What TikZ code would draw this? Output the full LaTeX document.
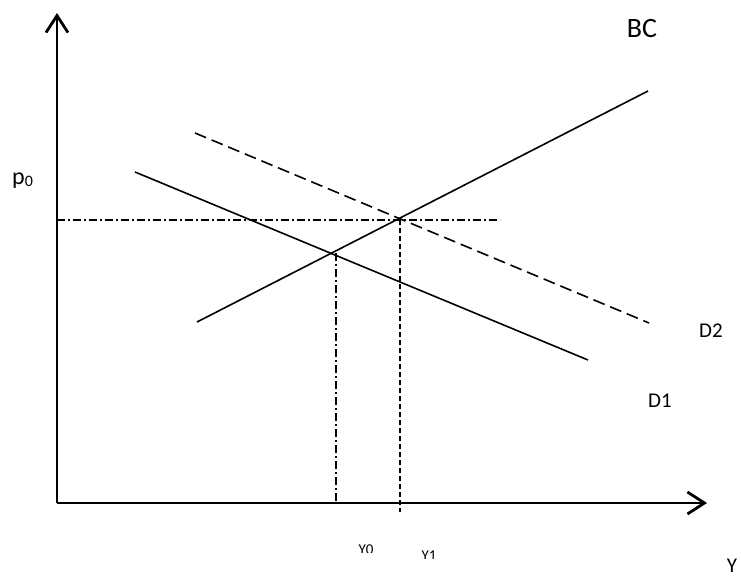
\documentclass[tikz,border=0pt]{standalone}
\usepackage{fontspec}
\setmainfont{Carlito}
\usetikzlibrary{arrows.meta}
\tikzset{
  axis/.style={line width=2.8pt,-{Straight Barb[length=17pt,width=22pt,line width=2.8pt]}},
  curve/.style={line width=1.6pt},
  dcurve/.style={line width=1.6pt,dash pattern=on 12pt off 6pt},
  guide/.style={line width=1.2pt,dash pattern=on 8pt off 3pt on 2pt off 3pt},
  vguide/.style={line width=1.2pt,dash pattern=on 5pt off 3pt},
  lbl/.style={inner sep=0pt,anchor=base}
}
\begin{document}
\begin{tikzpicture}[x=1pt,y=-1pt]
\useasboundingbox (0,0) rectangle (741,576);
\fill[white] (0,0) rectangle (741,576);
% axes
\coordinate (O) at (57,503);
\coordinate (ytip) at (57,13);
\coordinate (xtip) at (707,503);
\draw[axis] (O) -- (ytip);
\draw[axis] (O) -- (xtip);
% curves
\coordinate (bcA) at (197,322);
\coordinate (bcB) at (648,91);
\coordinate (d1A) at (135,172);
\coordinate (d1B) at (588,360);
\coordinate (d2A) at (195,133);
\coordinate (d2B) at (649,323);
\draw[curve] (bcA) -- (bcB);
\draw[curve] (d1A) -- (d1B);
\draw[dcurve] (d2A) -- (d2B);
% guides
\coordinate (hL) at (57,220);
\coordinate (hR) at (500,220);
\coordinate (E1) at (400,220);
\coordinate (E1b) at (400,512);
\coordinate (E0) at (336,253);
\coordinate (E0b) at (336,503);
\draw[guide] (hL) -- (hR);
\draw[vguide] (E1) -- (E1b);
\draw[guide] (E0) -- (E0b);
% labels
\node[lbl,font=\fontsize{28}{28}\selectfont] (BC) at (642,37) {BC};
\node[lbl,font=\fontsize{21}{21}\selectfont] (D2) at (711,337) {D2};
\node[lbl,font=\fontsize{21}{21}\selectfont] (D1) at (660,407) {D1};
\begin{scope}
\clip (0,0) rectangle (120,187);
\node[lbl,anchor=base west,font=\fontsize{24}{24}\selectfont] (p0) at (12,184) {p\raisebox{-2pt}{\fontsize{16}{16}\selectfont 0}};
\end{scope}
\begin{scope}
\clip (340,530) rectangle (390,552);
\node[lbl,font=\fontsize{15}{15}\selectfont] (Y0) at (366,554) {Y0};
\end{scope}
\begin{scope}
\clip (410,540) rectangle (450,558);
\node[lbl,font=\fontsize{15}{15}\selectfont] (Y1) at (429,560) {Y1};
\end{scope}
\node[lbl,font=\fontsize{21}{21}\selectfont] (Y) at (732,572) {Y};
\end{tikzpicture}
\end{document}
